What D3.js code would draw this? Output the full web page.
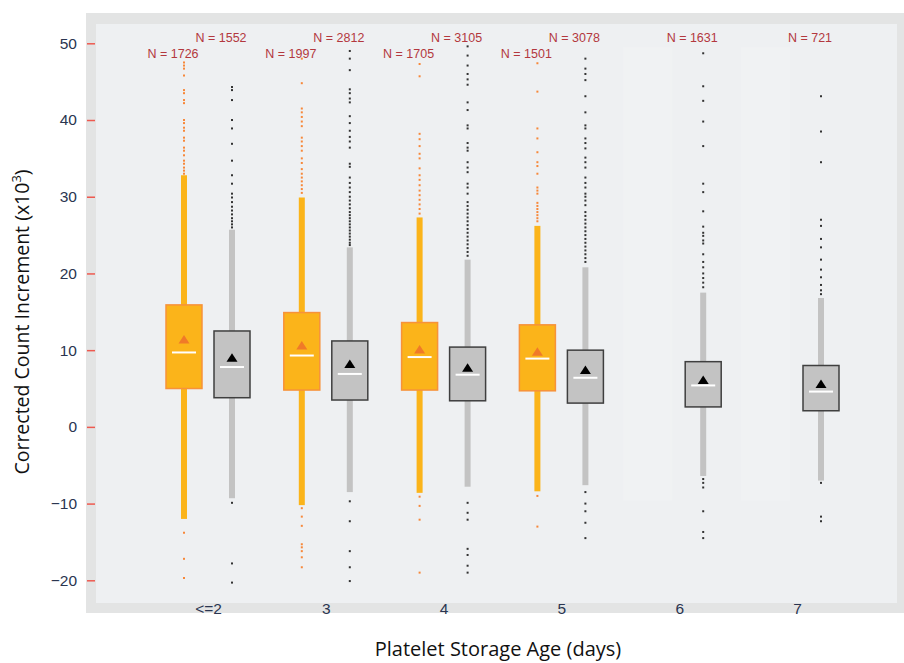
<!DOCTYPE html>
<html>
<head>
<meta charset="utf-8">
<script src="https://cdn.jsdelivr.net/npm/d3@7"></script>
<style>
  body { margin: 0; background: #ffffff; }
  svg { display: block; }
</style>
</head>
<body>
<div id="chart"></div>
<script>
// categories
const ageGroups = ["<=2", "3", "4", "5", "6", "7"];
const yTicks = [-20, -10, 0, 10, 20, 30, 40, 50];

// orange series (no boxes for 6 and 7)
const orangeN = [1726, 1997, 1705, 1501, null, null];
const orangeLow = [-12.0, -10.2, -8.6, -8.4, null, null];
const orangeQ1 = [5.0, 4.8, 4.8, 4.7, null, null];
const orangeMedian = [9.7, 9.3, 9.1, 8.9, null, null];
const orangeQ3 = [15.9, 14.9, 13.6, 13.3, null, null];
const orangeHigh = [32.8, 29.9, 27.3, 26.2, null, null];
const orangeMean = [11.4, 10.6, 10.1, 9.8, null, null];
const orangeOutliers = [
  [47.5, 47.1, 46.7, 45.8, 43.9, 43.5, 42.6, 42.2, 40.0, 39.6, 39.0, 38.6, 37.7, 37.3, 36.4, 36.0, 35.4, 34.7, 34.3, 33.8, 33.4, 33.0, -13.8, -17.2, -19.7],
  [48.0, 44.8, 41.5, 41.0, 40.4, 39.8, 39.2, 37.7, 37.2, 36.6, 36.0, 35.0, 34.4, 33.6, 33.0, 32.5, 32.0, 31.5, 31.0, 30.5, -10.6, -11.7, -12.9, -15.3, -15.7, -16.2, -17.0, -18.3],
  [47.3, 45.7, 38.2, 37.5, 36.6, 35.6, 35.0, 33.7, 32.8, 32.2, 31.5, 30.8, 30.2, 29.6, 29.0, 28.4, 27.8, -9.1, -10.3, -12.1, -19.0],
  [47.4, 43.7, 38.9, 37.6, 35.8, 34.5, 34.0, 33.0, 31.2, 30.8, 30.4, 29.2, 28.8, 28.4, 28.0, 27.6, 27.2, 26.8, -9.0, -13.0],
  [],
  []
];

// gray series
const grayN = [1552, 2812, 3105, 3078, 1631, 721];
const grayLow = [-9.3, -8.5, -7.8, -7.6, -6.4, -7.0];
const grayQ1 = [3.8, 3.5, 3.4, 3.1, 2.6, 2.1];
const grayMedian = [7.8, 6.9, 6.8, 6.4, 5.4, 4.6];
const grayQ3 = [12.5, 11.2, 10.4, 10.0, 8.5, 8.0];
const grayHigh = [25.7, 23.4, 21.8, 20.8, 17.5, 16.8];
const grayMean = [9.0, 8.2, 7.7, 7.4, 6.1, 5.6];
const grayOutliers = [
  [44.3, 43.9, 42.6, 40.0, 38.9, 36.9, 34.7, 32.8, 31.7, 30.4, 29.9, 29.3, 28.7, 28.2, 27.7, 27.2, 26.8, 26.4, 26.0, -9.9, -17.8, -20.3],
  [49.0, 48.0, 46.5, 44.0, 43.5, 42.8, 42.3, 40.5, 39.6, 38.6, 37.8, 37.2, 36.4, 34.3, 33.9, 32.5, 31.8, 31.2, 30.6, 30.0, 29.5, 29.0, 28.5, 28.0, 27.6, 27.2, 26.8, 26.4, 26.0, 25.6, 25.2, 24.8, 24.4, 24.0, 23.7, -9.7, -12.3, -16.2, -18.3, -20.1],
  [49.6, 48.4, 47.1, 46.0, 45.3, 44.6, 42.3, 41.3, 39.3, 38.9, 37.0, 36.4, 36.0, 34.5, 33.8, 33.2, 31.7, 31.2, 30.4, 29.3, 28.8, 28.3, 27.8, 27.3, 26.8, 26.3, 25.8, 25.3, 24.8, 24.3, 23.8, 23.3, 22.8, 22.3, -9.9, -11.2, -12.1, -15.9, -16.7, -18.1, -19.0],
  [48.0, 46.7, 46.0, 45.2, 43.1, 41.0, 39.3, 38.9, 37.6, 37.0, 36.3, 35.1, 34.5, 33.8, 32.5, 31.8, 31.2, 30.4, 30.0, 29.5, 28.9, 28.0, 27.5, 27.0, 26.5, 26.0, 25.5, 25.0, 24.5, 24.0, 23.5, 23.0, 22.5, 22.0, 21.5, -8.5, -10.0, -11.0, -12.5, -14.5],
  [48.7, 44.4, 42.5, 39.8, 36.6, 31.7, 30.6, 28.1, 26.1, 25.3, 24.9, 24.3, 23.9, 22.5, 21.5, 20.8, 20.0, 19.4, 18.8, 18.2, -6.8, -7.3, -7.9, -11.0, -13.7, -14.5],
  [43.1, 38.5, 34.5, 27.0, 26.2, 24.5, 23.4, 21.8, 20.5, 19.5, 18.5, 17.8, 17.3, -7.3, -11.7, -12.3]
];

const width = 904;
const height = 663;

const svg = d3.select("#chart")
  .append("svg")
  .attr("width", width)
  .attr("height", height);

// panel background: outer gray frame and light inner panel
svg.append("rect")
  .attr("x", 86).attr("y", 13)
  .attr("width", width - 86).attr("height", 600)
  .attr("fill", "#e3e4e4");
svg.append("rect")
  .attr("x", 96).attr("y", 24)
  .attr("width", 801).attr("height", 579)
  .attr("fill", "#eef0f2");

// scales
const x = d3.scalePoint().domain(ageGroups).range([208, 797]);
const sub = d3.scaleBand().domain(["orange", "gray"]).range([-48, 48]);
const y = d3.scaleLinear().domain([-20, 50]).range([580.3, 43.3]);

const boxW = 36;
const whiskerW = 6;

// build rows for each series
function rows(key, n, low, q1, med, q3, high, mean, outliers) {
  return ageGroups.map((g, i) => ({
    group: g, key: key, n: n[i], low: low[i], q1: q1[i], median: med[i],
    q3: q3[i], high: high[i], mean: mean[i], outliers: outliers[i]
  })).filter(d => d.n != null);
}
const orangeRows = rows("orange", orangeN, orangeLow, orangeQ1, orangeMedian, orangeQ3, orangeHigh, orangeMean, orangeOutliers);
const grayRows = rows("gray", grayN, grayLow, grayQ1, grayMedian, grayQ3, grayHigh, grayMean, grayOutliers);

// very faint empty slots where the orange boxes are missing
svg.selectAll("ghost")
  .data(ageGroups.filter((g, i) => orangeN[i] == null))
  .join("rect")
  .attr("x", d => x(d) + sub.bandwidth() / 2 + sub("orange") - 32)
  .attr("width", 49)
  .attr("y", y(49.5))
  .attr("height", y(-9.6) - y(49.5))
  .attr("fill", "#f0f2f3");

const style = {
  orange: { whisker: "#fbb41a", fill: "#fbb41a", stroke: "#f7923a", dot: "#f7883a", mean: "#f07a28" },
  gray: { whisker: "#c3c3c3", fill: "#c3c3c3", stroke: "#3f3f3f", dot: "#333333", mean: "#000000" }
};

function cx(d) {
  return x(d.group) + sub(d.key) + sub.bandwidth() / 2;
}

function drawSeries(data) {
  const s = style[data[0].key];
  const g = svg.append("g");

  // whiskers
  g.selectAll("whisker")
    .data(data)
    .join("rect")
    .attr("x", d => cx(d) - whiskerW / 2)
    .attr("width", whiskerW)
    .attr("y", d => y(d.high))
    .attr("height", d => y(d.low) - y(d.high))
    .attr("fill", s.whisker);

  // outlier dots
  data.forEach(d => {
    g.selectAll(null)
      .data(d.outliers)
      .join("rect")
      .attr("x", cx(d) - 1)
      .attr("y", v => y(v) - 1)
      .attr("width", 2)
      .attr("height", 2)
      .attr("fill", s.dot);
  });

  // boxes
  g.selectAll("box")
    .data(data)
    .join("rect")
    .attr("x", d => cx(d) - boxW / 2)
    .attr("width", boxW)
    .attr("y", d => y(d.q3))
    .attr("height", d => y(d.q1) - y(d.q3))
    .attr("fill", s.fill)
    .attr("stroke", s.stroke)
    .attr("stroke-width", 1.5);

  // medians
  g.selectAll("median")
    .data(data)
    .join("line")
    .attr("x1", d => cx(d) - boxW / 2 + 6)
    .attr("x2", d => cx(d) + boxW / 2 - 6)
    .attr("y1", d => y(d.median))
    .attr("y2", d => y(d.median))
    .attr("stroke", "#ffffff")
    .attr("stroke-width", 2);

  // means
  g.selectAll("mean")
    .data(data)
    .join("path")
    .attr("d", d => {
      const px = cx(d), py = y(d.mean);
      return `M${px - 5.5},${py + 4}L${px + 5.5},${py + 4}L${px},${py - 4.5}Z`;
    })
    .attr("fill", s.mean);
}
drawSeries(orangeRows);
drawSeries(grayRows);

// N labels
svg.selectAll("nlabel")
  .data(orangeRows.concat(grayRows))
  .join("text")
  .attr("x", d => cx(d) - 11)
  .attr("y", d => d.key == "orange" ? 58 : 41.5)
  .attr("text-anchor", "middle")
  .style("font-family", "'Liberation Sans', Arial, sans-serif")
  .style("font-size", "12.5px")
  .style("fill", "#b3383e")
  .text(d => "N = " + d.n);

// y axis
const yAxis = svg.append("g")
  .attr("transform", "translate(95,0)")
  .call(d3.axisLeft(y).tickValues(yTicks).tickSize(8).tickPadding(10));
yAxis.select(".domain").remove();
yAxis.selectAll(".tick line").attr("stroke", "#ee5a50").attr("stroke-width", 1.5);
yAxis.selectAll(".tick text")
  .style("font-family", "'Liberation Sans', Arial, sans-serif")
  .style("font-size", "15.5px")
  .style("fill", "#2a3550");

// x axis
const xAxis = svg.append("g")
  .attr("transform", "translate(0,600)")
  .call(d3.axisBottom(x).tickSize(0).tickPadding(3));
xAxis.select(".domain").remove();
xAxis.selectAll(".tick text")
  .style("font-family", "'Liberation Sans', Arial, sans-serif")
  .style("font-size", "15.5px")
  .style("fill", "#2a3550");

// axis titles
svg.append("text")
  .attr("x", 498)
  .attr("y", 656)
  .attr("text-anchor", "middle")
  .style("font-family", "'Open Sans', sans-serif")
  .style("font-size", "20px")
  .style("fill", "#111111")
  .text("Platelet Storage Age (days)");

const yTitle = svg.append("text")
  .attr("transform", "translate(29,322) rotate(-90)")
  .attr("text-anchor", "middle")
  .style("font-family", "'Open Sans', sans-serif")
  .style("font-size", "19.5px")
  .style("fill", "#111111");
yTitle.append("tspan").text("Corrected Count Increment (x10");
yTitle.append("tspan").attr("dy", -8).style("font-size", "13px").text("3");
yTitle.append("tspan").attr("dy", 8).text(")");
</script>
</body>
</html>
